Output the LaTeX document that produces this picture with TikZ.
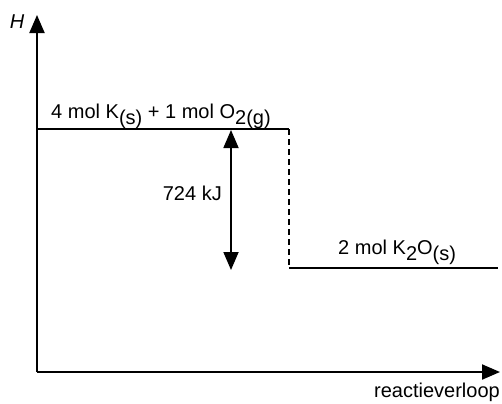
\documentclass[tikz,border=0pt]{standalone}
\usepackage{fontspec}
\setmainfont{Liberation Sans}
\usetikzlibrary{arrows.meta}
\newcommand{\lowsub}[1]{\raisebox{-0.33em}{#1}}
\begin{document}
\begin{tikzpicture}[x=1bp,y=-1bp,
  axis/.style={line width=2bp,-{Triangle[length=18bp,width=15bp]}},
  level/.style={line width=1.8bp},
  jump/.style={line width=1.5bp,dash pattern=on 6bp off 4bp},
  dh/.style={line width=1.8bp,{Triangle[length=18bp,width=15bp]}-{Triangle[length=18bp,width=15bp]}},
  lbl/.style={inner sep=0pt,font=\fontsize{20bp}{22bp}\selectfont}]
\useasboundingbox (0,0) rectangle (502,403);
\coordinate (O) at (37,372);
\coordinate (ytip) at (37,15);
\coordinate (xtip) at (500,372);
\coordinate (a1) at (37,129);
\coordinate (a2) at (289,129);
\coordinate (b1) at (289,268);
\coordinate (b2) at (498,268);
\coordinate (d1) at (231,130);
\coordinate (d2) at (231,270);
\draw[axis] (O) -- (ytip);
\draw[axis] (O) -- (xtip);
\draw[level] (a1) -- (a2);
\draw[jump] (a2) -- (b1);
\draw[level] (b1) -- (b2);
\draw[dh] (d1) -- (d2);
\node[lbl,anchor=center] (H) at (17,22) {\textit{H}};
\node[lbl,anchor=base west] (react) at (51,118) {4 mol K\lowsub{(s)} + 1 mol O\lowsub{2(g)}};
\node[lbl,anchor=east] (dHl) at (222,193) {724 kJ};
\node[lbl,anchor=base west] (prod) at (338,254) {2 mol K\lowsub{2}O\lowsub{(s)}};
\node[lbl,anchor=base east] (xl) at (500,397) {reactieverloop};
\end{tikzpicture}
\end{document}
